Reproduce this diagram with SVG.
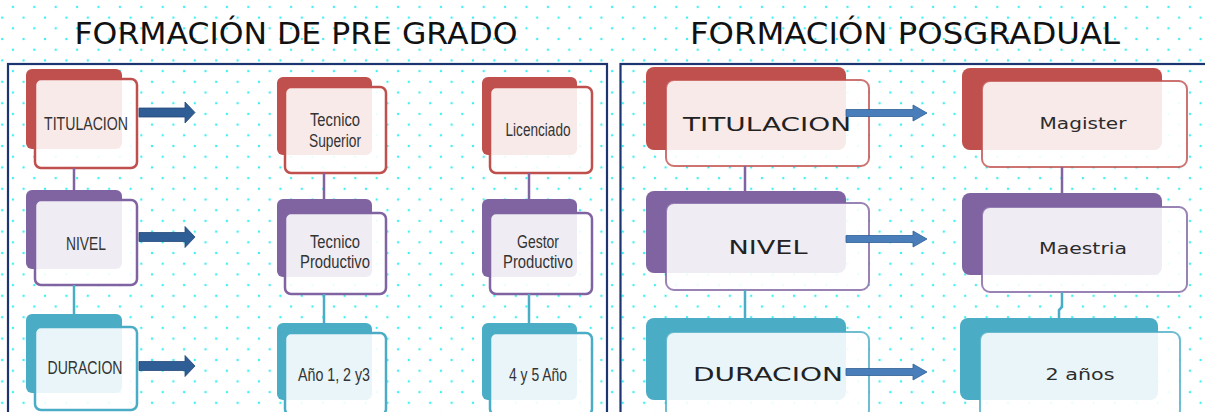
<svg xmlns="http://www.w3.org/2000/svg" width="1205" height="412" viewBox="0 0 1205 412">
<defs>
<pattern id="dots" x="2.2" y="17.6" width="21.4" height="21.4" patternUnits="userSpaceOnUse">
<circle cx="0" cy="0" r="1.2" fill="#3ef0f5"/><circle cx="21.4" cy="0" r="1.2" fill="#3ef0f5"/>
<circle cx="0" cy="21.4" r="1.2" fill="#3ef0f5"/><circle cx="21.4" cy="21.4" r="1.2" fill="#3ef0f5"/>
<circle cx="10.7" cy="10.7" r="1.2" fill="#3ef0f5"/>
</pattern>
</defs>
<style>
.title{font-family:"DejaVu Sans","Liberation Sans",sans-serif;font-size:31px;fill:#111}
.panel{fill:none;stroke:#1c3470;stroke-width:2.2}
.red .b{fill:#c0504d}.red .f{stroke:#c0504d}
.pur .b{fill:#8064a2}.pur .f{stroke:#8064a2}
.teal .b{fill:#4bacc6}.teal .f{stroke:#4bacc6}
.f{fill:#ffffff;fill-opacity:0.88;stroke-width:2.5}
.R .f{stroke-width:2;stroke-opacity:0.8}
.lt{font-family:"Liberation Sans",Arial,sans-serif;font-size:17.5px;fill:#333;text-anchor:middle}
.rt{font-family:"DejaVu Sans","Liberation Sans",sans-serif;font-size:20px;fill:#222;text-anchor:middle}
.rs{font-family:"DejaVu Sans","Liberation Sans",sans-serif;font-size:15px;fill:#2c2c2c;text-anchor:middle}
.ln{stroke-width:2.5;fill:none}
.la{fill:#2f5d95;stroke:#24497a;stroke-width:0.8}
.ra{fill:#4a7ebb;stroke:#2f5f96;stroke-width:0.8}
</style>
<rect width="1205" height="412" fill="#ffffff"/>
<rect width="1205" height="412" fill="url(#dots)"/>
<text class="title" x="296" y="44" text-anchor="middle" textLength="443" lengthAdjust="spacingAndGlyphs">FORMACIÓN DE PRE GRADO</text>
<text class="title" x="905" y="44" text-anchor="middle" textLength="430" lengthAdjust="spacingAndGlyphs">FORMACIÓN POSGRADUAL</text>
<rect class="panel" x="8" y="64" width="599" height="370"/>
<rect class="panel" x="620.5" y="64" width="600" height="370"/>

<g id="pre-titulacion" class="red"><rect class="b" x="26" y="69" width="96" height="80" rx="6"/><rect class="f" x="35" y="79" width="102" height="89" rx="6"/><text class="lt" x="86" y="130" textLength="84" lengthAdjust="spacingAndGlyphs">TITULACION</text></g>
<g id="pre-nivel" class="pur"><rect class="b" x="26" y="190" width="96" height="79" rx="6"/><rect class="f" x="35" y="200" width="102" height="85" rx="6"/><text class="lt" x="86" y="250" textLength="40" lengthAdjust="spacingAndGlyphs">NIVEL</text></g>
<g id="pre-duracion" class="teal"><rect class="b" x="26" y="314" width="96" height="79" rx="6"/><rect class="f" x="35" y="327" width="102" height="83" rx="6"/><text class="lt" x="85" y="374" textLength="75" lengthAdjust="spacingAndGlyphs">DURACION</text></g>

<g id="tecnico-superior" class="red"><rect class="b" x="277" y="77" width="95" height="78" rx="6"/><rect class="f" x="285" y="87" width="101" height="86" rx="6"/><text class="lt" x="335" y="126" textLength="50" lengthAdjust="spacingAndGlyphs">Tecnico</text><text class="lt" x="335" y="147" textLength="52" lengthAdjust="spacingAndGlyphs">Superior</text></g>
<g id="tecnico-productivo" class="pur"><rect class="b" x="277" y="199" width="95" height="78" rx="6"/><rect class="f" x="285" y="213" width="101" height="81" rx="6"/><text class="lt" x="335" y="248" textLength="50" lengthAdjust="spacingAndGlyphs">Tecnico</text><text class="lt" x="335" y="268" textLength="70" lengthAdjust="spacingAndGlyphs">Productivo</text></g>
<g id="anio-123" class="teal"><rect class="b" x="277" y="323" width="95" height="77" rx="6"/><rect class="f" x="285" y="333" width="101" height="82" rx="6"/><text class="lt" x="334" y="381" textLength="72" lengthAdjust="spacingAndGlyphs">Año 1, 2 y3</text></g>

<g id="licenciado" class="red"><rect class="b" x="482" y="77" width="95" height="78" rx="6"/><rect class="f" x="490" y="87" width="102" height="86" rx="6"/><text class="lt" x="538" y="136" textLength="65" lengthAdjust="spacingAndGlyphs">Licenciado</text></g>
<g id="gestor-productivo" class="pur"><rect class="b" x="482" y="199" width="95" height="78" rx="6"/><rect class="f" x="490" y="213" width="102" height="81" rx="6"/><text class="lt" x="538" y="248" textLength="42" lengthAdjust="spacingAndGlyphs">Gestor</text><text class="lt" x="538" y="268" textLength="70" lengthAdjust="spacingAndGlyphs">Productivo</text></g>
<g id="anio-45" class="teal"><rect class="b" x="482" y="323" width="95" height="77" rx="6"/><rect class="f" x="490" y="333" width="102" height="82" rx="6"/><text class="lt" x="538" y="381" textLength="58" lengthAdjust="spacingAndGlyphs">4 y 5 Año</text></g>

<g id="pos-titulacion" class="red R"><rect class="b" x="646" y="67" width="200" height="83" rx="8"/><rect class="f" x="666" y="80" width="203" height="86" rx="8"/><text class="rt" x="767" y="130.5" textLength="168" lengthAdjust="spacingAndGlyphs">TITULACION</text></g>
<g id="pos-nivel" class="pur R"><rect class="b" x="646" y="191" width="200" height="82" rx="8"/><rect class="f" x="666" y="203" width="203" height="87" rx="8"/><text class="rt" x="768" y="253.5" textLength="79" lengthAdjust="spacingAndGlyphs">NIVEL</text></g>
<g id="pos-duracion" class="teal R"><rect class="b" x="646" y="318" width="200" height="82" rx="8"/><rect class="f" x="666" y="332" width="203" height="86" rx="8"/><text class="rt" x="768" y="380.5" textLength="150" lengthAdjust="spacingAndGlyphs">DURACION</text></g>

<g id="magister" class="red R"><rect class="b" x="962" y="68" width="200" height="82" rx="8"/><rect class="f" x="982" y="81" width="205" height="86" rx="8"/><text class="rs" x="1083" y="128.5" textLength="87" lengthAdjust="spacingAndGlyphs">Magister</text></g>
<g id="maestria" class="pur R"><rect class="b" x="962" y="193" width="200" height="82" rx="8"/><rect class="f" x="982" y="207" width="205" height="85" rx="8"/><text class="rs" x="1083" y="253.5" textLength="88" lengthAdjust="spacingAndGlyphs">Maestria</text></g>
<g id="dos-anios" class="teal R"><rect class="b" x="960" y="318" width="198" height="82" rx="8"/><rect class="f" x="980" y="332" width="200" height="86" rx="8"/><text class="rs" x="1080" y="379.5" textLength="69" lengthAdjust="spacingAndGlyphs">2 años</text></g>

<g id="connectors">
<path class="ln" stroke="#8064a2" d="M74 168V190M324 173V199M529 173V199"/>
<path class="ln" stroke="#4bacc6" d="M74 285V314M324 294V323M529 294V323"/>
<path class="ln" stroke="#8064a2" stroke-width="2" d="M745 166V191M1062 167V193"/>
<path class="ln" stroke="#4bacc6" stroke-width="2" d="M745 290V318M1062 292V307L1059 310V318"/>
<path class="la" d="M139 108H185V102L195 112.5L185 123V117H139Z"/>
<path class="la" d="M139 232.5H185V226.5L195 237L185 247.5V241.5H139Z"/>
<path class="la" d="M139 361.5H185V355.5L195 366L185 376.5V370.5H139Z"/>
<path class="ra" d="M846 109.5H913V105L927 113L913 121V116.5H846Z"/>
<path class="ra" d="M846 235.5H913V231L927 239L913 247V242.5H846Z"/>
<path class="ra" d="M846 368.5H913V364L927 372L913 380V375.5H846Z"/>
</g>
</svg>
